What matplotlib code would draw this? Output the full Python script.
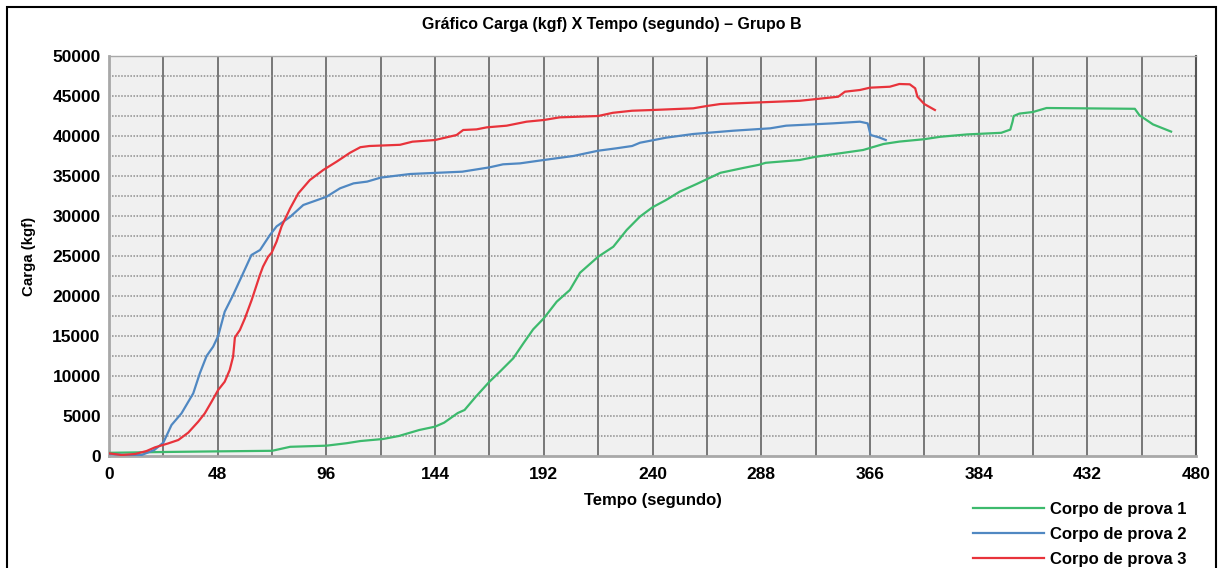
import numpy as np
import matplotlib
matplotlib.use("Agg")
import matplotlib.pyplot as plt
from matplotlib.patches import Rectangle

plt.rcParams['font.family'] = ['Liberation Sans', 'DejaVu Sans']

#%% data
t_cp1 = [0, 12, 24, 48, 72, 76, 80, 96, 105, 111, 121, 128, 137, 144, 148, 154, 157, 162,
         168, 172.6, 178.5, 183, 187.3, 192, 197.7, 203.5, 208, 211, 216, 222.7, 228.6,
         234.4, 240, 246, 252, 259.5, 264, 270, 280, 287, 290, 305, 312, 333, 342, 349,
         360, 367, 379, 394, 398, 399, 399.5, 402, 408, 414, 453, 455, 461, 469]
f_cp1 = [400, 450, 500, 580, 650, 900, 1150, 1290, 1600, 1870, 2125, 2500, 3250, 3670,
         4170, 5370, 5750, 7420, 9290, 10540, 12210, 14090, 15830, 17210, 19290, 20750,
         22910, 23660, 24910, 26160, 28250, 29910, 31090, 32000, 33040, 34000, 34600,
         35400, 36000, 36400, 36650, 37000, 37400, 38250, 39000, 39300, 39600, 39900,
         40200, 40400, 40800, 41800, 42500, 42800, 43000, 43500, 43400, 42600, 41450, 40550]

t_cp2 = [0, 7, 14.4, 20, 24, 27.6, 32, 37.2, 40.1, 43.1, 46, 48.2, 51.1, 54.8, 58.5, 62.9,
         66.7, 71, 74, 80, 85.8, 96, 102, 108, 114, 120, 133, 156, 168, 174, 181.5, 192,
         205, 216, 224, 231, 234.5, 246, 258, 275.6, 292, 299, 319.7, 331.6, 335, 336.3,
         340, 343]
f_cp2 = [250, 125, 125, 750, 1670, 3875, 5330, 7830, 10330, 12500, 13670, 15000, 18040,
         20125, 22400, 25125, 25750, 27600, 28700, 29900, 31375, 32400, 33460, 34080,
         34300, 34800, 35250, 35540, 36080, 36460, 36580, 37000, 37500, 38160, 38460,
         38750, 39160, 39790, 40250, 40660, 40960, 41290, 41580, 41790, 41580, 40125,
         39830, 39500]

t_cp3 = [0, 5.6, 11.5, 16.6, 20.3, 26.2, 30.6, 35, 39.4, 42.3, 45.3, 48.2, 51.1, 53.3,
         54.8, 55.6, 57.8, 60, 63, 66.6, 68, 70.3, 71.8, 74, 76.2, 80, 83.6, 88.7, 94.6,
         100.5, 106.4, 111, 115, 128.5, 134, 144, 153.5, 156.4, 162.3, 166.8, 175.6, 184.4,
         192, 199, 216, 222.5, 231, 240, 258, 264, 270, 288, 305, 322, 325, 331.6, 336,
         344.8, 349, 353.6, 356, 357, 360, 364.7]
f_cp3 = [330, 125, 250, 625, 1080, 1580, 2000, 2920, 4290, 5330, 6790, 8250, 9290, 10750,
         12420, 14830, 15750, 17200, 19500, 22600, 23670, 24920, 25400, 26800, 28700,
         30960, 32830, 34500, 35750, 36790, 37900, 38600, 38750, 38900, 39290, 39500,
         40125, 40750, 40830, 41080, 41290, 41790, 42000, 42330, 42500, 42900, 43160,
         43250, 43460, 43750, 44000, 44210, 44400, 44910, 45540, 45750, 46040, 46160,
         46500, 46460, 45960, 44910, 44000, 43250]

series_names = ["Corpo de prova 1", "Corpo de prova 2", "Corpo de prova 3"]
series_colors = ["#3dba6d", "#5088c2", "#e8333b"]

x_ticks = [0, 48, 96, 144, 192, 240, 288, 336, 384, 432, 480]
x_tick_labels = ["0", "48", "96", "144", "192", "240", "288", "366", "384", "432", "480"]
y_ticks = np.arange(0, 50001, 5000)

#%% plotting
fig = plt.figure(figsize=(12.2, 5.68), dpi=100)
ax = fig.add_axes([109/1220, 1 - 456/568, (1196 - 109)/1220, 400/568])
ax.set_facecolor("#f0f0f0")

for t, f, name, col in zip([t_cp1, t_cp2, t_cp3], [f_cp1, f_cp2, f_cp3],
                           series_names, series_colors):
    ax.plot(t, f, color=col, lw=1.6, label=name, zorder=3)

ax.set_xlim(0, 480)
ax.set_ylim(0, 50000)

# grid: dark solid verticals every 24 s, dotted horizontals every 2500 kgf
for xv in np.arange(24, 480, 24):
    ax.axvline(xv, color="#6e6e6e", lw=1.3, zorder=1)
for yv in np.arange(2500, 50000, 2500):
    ax.axhline(yv, color="#8c8c8c", lw=1.1, ls=(0, (1, 1)), zorder=1)

ax.set_xticks(x_ticks)
ax.set_xticklabels(x_tick_labels)
ax.set_yticks(y_ticks)
ax.tick_params(length=0, labelsize=12.5)
ax.tick_params(axis="y", pad=6)
ax.tick_params(axis="x", pad=8)
for lab in ax.get_xticklabels() + ax.get_yticklabels():
    lab.set_fontweight("bold")

for s in ["left", "bottom"]:
    ax.spines[s].set_color("#a8a8a8")
    ax.spines[s].set_linewidth(2)
ax.spines["top"].set_color("#a8a8a8")
ax.spines["top"].set_linewidth(1)
ax.spines["right"].set_color("#555555")
ax.spines["right"].set_linewidth(1.5)

ax.set_xlabel("Tempo (segundo)", fontsize=12, fontweight="bold", labelpad=8)
ax.set_ylabel("Carga (kgf)", fontsize=10.8, fontweight="bold", labelpad=12)

fig.text(612/1220, 1 - 24/568, "Gráfico Carga (kgf) X Tempo (segundo) – Grupo B",
         ha="center", va="center", fontsize=11.5, fontweight="bold")

leg = fig.legend(loc="upper left", bbox_to_anchor=(966/1220, 1 - 495/568),
                 frameon=False, handlelength=4.3, handletextpad=0.35, labelspacing=0.6,
                 prop={"size": 12, "weight": "bold"}, borderaxespad=0)

# outer frame of the chart, cut at the bottom edge
fig.patches.append(Rectangle((7/1220, -0.05), (1216 - 7)/1220, 1.05 - 7/568,
                             transform=fig.transFigure, fill=False,
                             edgecolor="black", lw=1.5))

fig.savefig("out.png", dpi=100)
